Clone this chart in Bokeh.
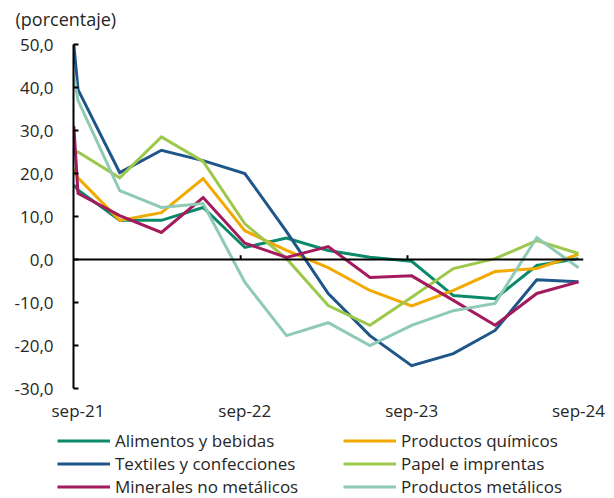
from bokeh.plotting import figure
from bokeh.layouts import column
from bokeh.models import Range1d, FixedTicker, Span, Legend, LegendItem, Label
from bokeh.embed import file_html
from bokeh.resources import INLINE

# ---- data -------------------------------------------------------------
# x in quarters, sep-21 = 0 ; the first value sits just before sep-21
x_pos = [-0.1, 0, 1, 2, 3, 4, 5, 6, 7, 8, 9, 10, 11, 12]
x_tick_values = [0, 4, 8, 12]
x_tick_labels = ["sep-21", "sep-22", "sep-23", "sep-24"]
zero_line_ticks = [3.9, 7.9]
y_tick_values = [-30, -20, -10, 0, 10, 20, 30, 40, 50]
y_tick_labels = ["-30,0", "-20,0", "-10,0", "0,0", "10,0", "20,0", "30,0", "40,0", "50,0"]

alimentos = [17.3, 16.2, 9.1, 9.1, 12.1, 2.8, 5.0, 2.1, 0.5, -0.4, -8.4, -9.1, -1.4, 0.2]
quimicos = [21.0, 19.0, 9.1, 10.9, 18.8, 6.7, 2.1, -1.9, -7.2, -10.8, -7.2, -2.8, -2.1, 1.2]
textiles = [50.0, 39.5, 20.2, 25.4, 23.0, 20.0, 6.5, -7.9, -17.7, -24.7, -21.9, -16.5, -4.7, -5.2]
papel = [24.5, 25.0, 19.0, 28.5, 22.8, 8.3, 0.2, -10.7, -15.3, -8.8, -2.1, 0.2, 4.4, 1.4]
minerales = [31.0, 15.4, 10.2, 6.3, 14.4, 3.8, 0.5, 3.0, -4.2, -3.8, -9.5, -15.3, -7.9, -5.2]
metalicos = [43.0, 37.0, 16.0, 12.1, 13.0, -5.3, -17.7, -14.7, -20.0, -15.3, -11.9, -10.2, 5.1, -1.9]

series = [
    ("Alimentos y bebidas", alimentos, "#0b8a6b"),
    ("Productos químicos", quimicos, "#f2a900"),
    ("Textiles y confecciones", textiles, "#1f5689"),
    ("Papel e imprentas", papel, "#9cc84b"),
    ("Minerales no metálicos", minerales, "#a31a5d"),
    ("Productos metálicos", metalicos, "#8ecab5"),
]
title_text = "(porcentaje)"

FONT = "Open Sans"
TXT = "#262626"
FS = "17px"
W = 614


def bare_figure(h, xr, yr):
    f = figure(width=W, height=h, output_backend="svg", toolbar_location=None,
               x_range=xr, y_range=yr, min_border=0,
               x_axis_type=None, y_axis_type=None, frame_align=False)
    f.outline_line_color = None
    f.grid.visible = False
    return f


# ---- title strip -------------------------------------------------------
TH = 30
pt = bare_figure(TH, Range1d(0, W), Range1d(0, TH))
pt.add_layout(Label(x=15, y=TH - 18, text=title_text, text_font=FONT,
                    text_font_size="18px", text_color=TXT,
                    text_baseline="middle", text_align="left"))

# ---- main chart --------------------------------------------------------
p = figure(width=W, height=398, output_backend="svg", toolbar_location=None,
           x_range=Range1d(-0.108, 12.12), y_range=Range1d(-30, 50),
           min_border_left=73, min_border_right=31, min_border_top=14,
           min_border_bottom=40, frame_align=False)
p.outline_line_color = None
p.grid.visible = False

ya = p.yaxis[0]
ya.ticker = FixedTicker(ticks=y_tick_values)
ya.major_label_overrides = {v: s for v, s in zip(y_tick_values, y_tick_labels)}
ya.axis_line_color = "black"
ya.axis_line_width = 2
ya.major_tick_line_color = "black"
ya.major_tick_line_width = 2
ya.major_tick_in = 5
ya.major_tick_out = 0
ya.minor_tick_line_color = None
ya.major_label_standoff = 20
ya.major_label_text_font = FONT
ya.major_label_text_font_size = FS
ya.major_label_text_color = TXT

xa = p.xaxis[0]
xa.ticker = FixedTicker(ticks=x_tick_values)
xa.major_label_overrides = {v: s for v, s in zip(x_tick_values, x_tick_labels)}
xa.axis_line_color = None
xa.major_tick_line_color = None
xa.minor_tick_line_color = None
xa.major_tick_in = 0
xa.major_tick_out = 0
xa.major_label_standoff = 10
xa.major_label_text_font = FONT
xa.major_label_text_font_size = FS
xa.major_label_text_color = TXT

p.add_layout(Span(location=0, dimension="width", line_color="black", line_width=2))
tick_len = 1.0
p.segment(x0=zero_line_ticks, y0=[0] * len(zero_line_ticks),
          x1=zero_line_ticks, y1=[tick_len] * len(zero_line_ticks),
          line_color="black", line_width=2)

for name, vals, col in series:
    p.line(x_pos, vals, line_color=col, line_width=3, line_join="miter")

# ---- legend strip ------------------------------------------------------
# proxies draw the same series, but outside this strip's visible range
LH = 70
pl = bare_figure(LH, Range1d(100, 101), Range1d(100, 101))
leg_items = []
for name, vals, col in series:
    r = pl.line(x_pos, vals, line_color=col, line_width=3)
    leg_items.append(LegendItem(label=name, renderers=[r]))


def make_legend(items, loc):
    leg = Legend(items=items, location=loc, orientation="vertical")
    leg.background_fill_alpha = 0
    leg.border_line_alpha = 0
    leg.padding = 0
    leg.margin = 0
    leg.spacing = 0
    leg.glyph_width = 53
    leg.glyph_height = 23
    leg.label_height = 23
    leg.label_standoff = 5
    leg.label_text_font = FONT
    leg.label_text_font_size = FS
    leg.label_text_color = TXT
    return leg


pl.add_layout(make_legend(leg_items[0::2], (57, 0)))
pl.add_layout(make_legend(leg_items[1::2], (343, 0)))

layout = column(pt, p, pl, spacing=0)
open("out.html", "w").write(file_html(layout, INLINE))
